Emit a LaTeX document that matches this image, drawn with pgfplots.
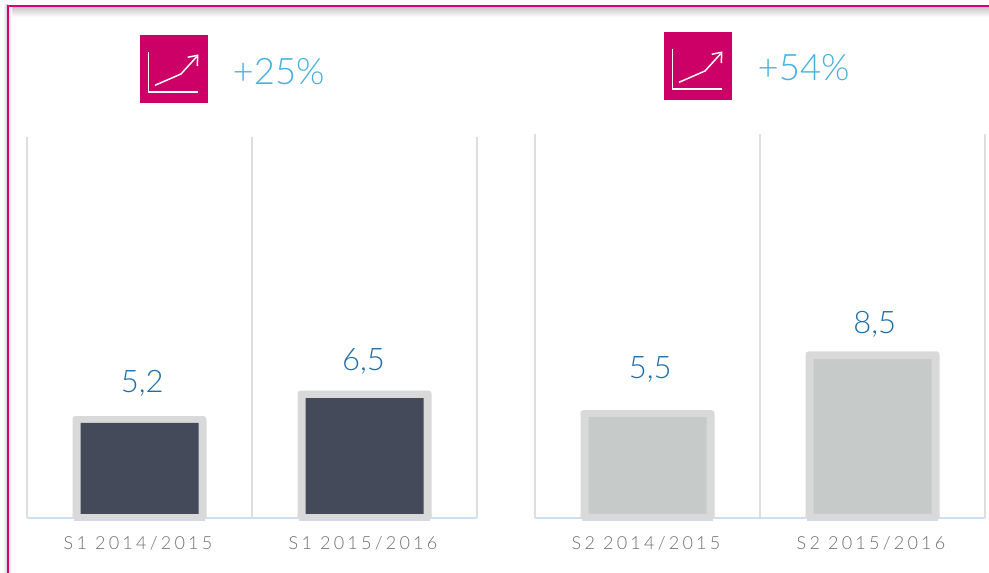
\documentclass[border=0pt]{standalone}
\usepackage{pgfplots}
\usepackage{pgfplotstable}
\usepackage{fontspec}
\pgfplotsset{compat=1.18}
\setmainfont{Lato}
\newfontfamily\lightf{Lato Light}
\newfontfamily\tickf[LetterSpace=18]{Lato Light}
\definecolor{frame}{HTML}{D6006F}
\definecolor{icon}{HTML}{CC0066}
\definecolor{pct}{HTML}{45B1E0}
\definecolor{val}{HTML}{1F6EA8}
\definecolor{tick}{HTML}{6F6F6F}
\definecolor{grid}{HTML}{DEDEDE}
\definecolor{base}{HTML}{CDDFF5}
\definecolor{rim}{HTML}{D9D9D9}
\definecolor{under}{HTML}{D5DAE2}
\definecolor{dark}{HTML}{444A5A}
\definecolor{pale}{HTML}{C6CBCA}
% value = the chart's number; inner = top of the bar's inner panel
\pgfplotstableread{
x value inner rim under
0 5.2 4.85 0.204 -0.153
1 6.5 6.12 0.204 -0.153
}\sone
\pgfplotstableread{
x value inner rim under
0 5.5 5.15 0.204 -0.153
1 8.5 8.11 0.204 -0.153
}\stwo
\pgfplotsset{
  panel/.style={
    scale only axis, width=450pt, anchor=south west,
    xmin=-0.5, xmax=1.5, ymin=0, clip=false,
    axis x line=bottom, axis y line=none,
    axis line style={-, draw=base, line width=2pt},
    xtick={-0.5,0.5,1.5}, xticklabels={}, xmajorgrids,
    major grid style={draw=grid, line width=2pt},
    major tick length=0pt,
    extra x ticks={0,1},
    extra x tick style={grid=none, major tick length=0pt,
      tick label style={anchor=base, yshift=-32pt, xshift=-1.5pt, font=\tickf\fontsize{18}{18}\selectfont, text=tick}},
  },
  rimbar/.style={ybar, bar shift=0pt, bar width=134pt, fill=rim, draw=none, rounded corners=3pt},
  innerbar/.style={ybar, bar shift=0pt, bar width=118pt, fill=#1, draw=none},
  rimbase/.style={ybar, bar shift=0pt, bar width=134pt, fill=rim, draw=none},
  underbar/.style={ybar, bar shift=0pt, bar width=131pt, fill=under, draw=none},
}
\tikzset{vlabel/.style={anchor=base, text=val, font=\lightf\fontsize{31}{31}\selectfont}}
\newcommand{\icon}[2]{%
  \begin{scope}[shift={(#1,#2)}]
    \fill[icon] (0,0) rectangle (68,68);
    \draw[white, line width=1.5pt] (8.3,16.7) -- (8.3,57) -- (57.7,57);
    \draw[white, line width=1.5pt] (15,50.3) -- (41,39) -- (56.7,21.7);
    \draw[white, line width=1.5pt] (47.7,22.3) -- (57.7,20.3) -- (57.3,31);
  \end{scope}}
\begin{document}
\begin{tikzpicture}[x=1pt,y=1pt]
\useasboundingbox (0,0) rectangle (989,573);
\fill[white] (0,0) rectangle (989,573);
\begin{scope}[yshift=573pt, y=-1pt]
  \shade[top color=black!22, bottom color=white] (8,7) rectangle (989,17);
  \shade[left color=white, right color=black!22] (3,5) rectangle (7.5,573);
  \shade[left color=black!10, right color=white] (9,7) rectangle (12,573);
  \draw[frame, line width=2pt] (989,6) -- (8,6) -- (8,573);
  \icon{140}{35}
  \icon{664}{32}
  \node[anchor=base west, inner sep=0pt, text=pct, font=\lightf\fontsize{36.5}{36.5}\selectfont] at (232.5,85) {+25\%};
  \node[anchor=base west, inner sep=0pt, text=pct, font=\lightf\fontsize{36.5}{36.5}\selectfont] at (757.5,81) {+54\%};
\end{scope}

\begin{axis}[panel, at={(27pt,55pt)}, height=381pt, ymax=19.44,
  extra x tick labels={S1 2014/2015, S1 2015/2016}]
  \addplot[underbar] table[x=x,y=under] {\sone};
  \addplot[rimbar] table[x=x,y=value] {\sone};
  \addplot[innerbar=dark] table[x=x,y=inner] {\sone};
  \addplot[rimbase] table[x=x,y=rim] {\sone};
  \node[vlabel] at (axis cs:0.012,6.38) {5,2};
  \node[vlabel] at (axis cs:0.996,7.55) {6,5};
\end{axis}

\begin{axis}[panel, at={(535pt,55pt)}, height=384pt, ymax=19.59,
  extra x tick labels={S2 2014/2015, S2 2015/2016}]
  \addplot[underbar] table[x=x,y=under] {\stwo};
  \addplot[rimbar] table[x=x,y=value] {\stwo};
  \addplot[innerbar=pale] table[x=x,y=inner] {\stwo};
  \addplot[rimbase] table[x=x,y=rim] {\stwo};
  \node[vlabel] at (axis cs:0.012,7.14) {5,5};
  \node[vlabel] at (axis cs:1.01,9.40) {8,5};
\end{axis}
\end{tikzpicture}
\end{document}
